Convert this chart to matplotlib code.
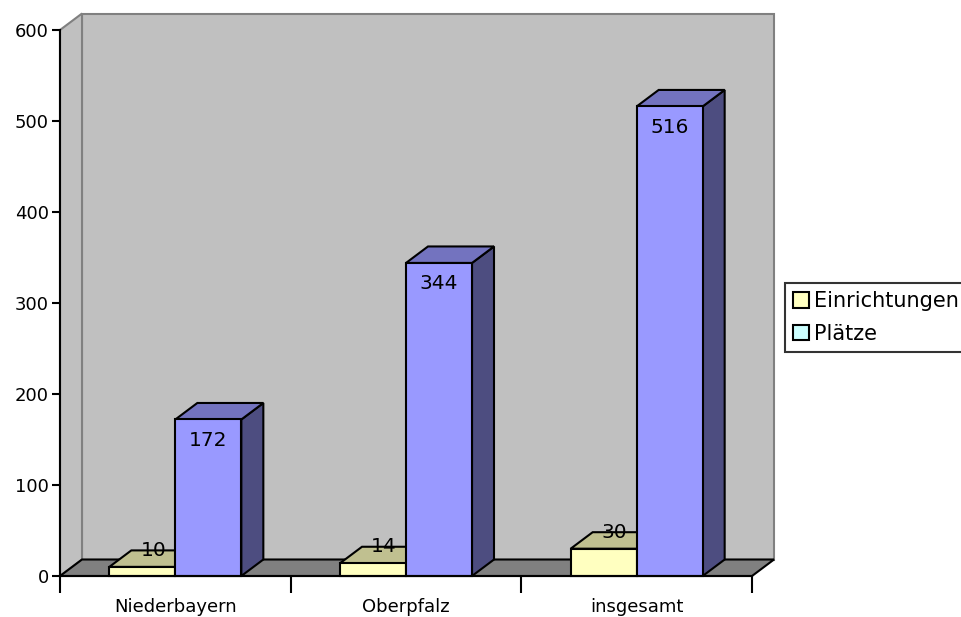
import matplotlib.pyplot as plt
from matplotlib.patches import Polygon, Patch

categories = ["Niederbayern", "Oberpfalz", "insgesamt"]
einrichtungen = [10, 14, 30]
plaetze = [172, 344, 516]
series_names = ["Einrichtungen", "Plätze"]
yticks = [0, 100, 200, 300, 400, 500, 600]

plt.rcParams['font.family'] = ['DejaVu Sans']
plt.rcParams['font.size'] = 11

fig = plt.figure(figsize=(9.62, 6.17), dpi=100)
ax = fig.add_axes([60/962, 41/617, 692/962, 546/617])
ax.set_xlim(0, 3)
ax.set_ylim(0, 600)

# depth of the fake 3d box
dx = 22/692*3
dy = 16.5/546*600
ymax = 600
n = len(categories)

wall = "#c0c0c0"
edge = "#808080"
ax.add_patch(Polygon([(dx, dy), (n+dx, dy), (n+dx, ymax+dy), (dx, ymax+dy)],
                     fc=wall, ec=edge, lw=1.5, clip_on=False, zorder=0))
ax.add_patch(Polygon([(0, 0), (dx, dy), (dx, ymax+dy), (0, ymax)],
                     fc=wall, ec=edge, lw=1.5, clip_on=False, zorder=0))
ax.add_patch(Polygon([(0, 0), (n, 0), (n+dx, dy), (dx, dy)],
                     fc="#808080", ec="black", lw=1.5, clip_on=False, zorder=1))


def bar3d(x0, w, v, front, top, side):
    ax.add_patch(Polygon([(x0+w, 0), (x0+w+dx, dy), (x0+w+dx, v+dy), (x0+w, v)],
                         fc=side, ec="black", lw=1.5, clip_on=False, zorder=2))
    ax.add_patch(Polygon([(x0, v), (x0+w, v), (x0+w+dx, v+dy), (x0+dx, v+dy)],
                         fc=top, ec="black", lw=1.5, clip_on=False, zorder=2))
    ax.add_patch(Polygon([(x0, 0), (x0+w, 0), (x0+w, v), (x0, v)],
                         fc=front, ec="black", lw=1.5, clip_on=False, zorder=2))


w = 66/692*3
for i in range(n):
    xa = i + 0.5 - w
    bar3d(xa, w, einrichtungen[i], "#ffffc0", "#c0c090", "#80805f")
    ax.text(xa + w/2 + dx/2, einrichtungen[i] + dy, str(einrichtungen[i]),
            ha="center", va="center", fontsize=14.5, zorder=5)
    xb = i + 0.5
    bar3d(xb, w, plaetze[i], "#9999ff", "#7373bf", "#4d4d80")
    ax.text(xb + w/2, plaetze[i] - 23, str(plaetze[i]),
            ha="center", va="center", fontsize=14.5, zorder=5)

for s in ["top", "right"]:
    ax.spines[s].set_visible(False)
ax.spines["left"].set_linewidth(1.5)
ax.spines["bottom"].set_linewidth(1.5)
ax.spines["left"].set_zorder(3)
ax.spines["bottom"].set_zorder(3)
ax.patch.set_visible(False)

ax.set_yticks(yticks)
ax.set_yticklabels([str(t) for t in yticks], fontsize=13)
ax.tick_params(axis="y", length=6, width=1.5, pad=2)
ax.set_xticks(range(n+1))
ax.set_xticklabels([])
ax.tick_params(axis="x", length=12, width=1.5)
ax.set_xticks([i + 0.5 for i in range(n)], minor=True)
ax.set_xticklabels(categories, minor=True, fontsize=13)
ax.tick_params(axis="x", which="minor", length=0, pad=16)

handles = [Patch(fc="#ffffc0", ec="black", lw=1.5),
           Patch(fc="#ccffff", ec="black", lw=1.5)]
leg = fig.legend(handles, series_names, loc="upper left",
                 bbox_to_anchor=(785/962, 1-283/617), borderaxespad=0,
                 fancybox=False, handlelength=0.75, handleheight=0.75,
                 handletextpad=0.25, borderpad=0.4, labelspacing=0.6,
                 fontsize=15, frameon=True)
leg.get_frame().set_edgecolor("black")
leg.get_frame().set_linewidth(1.5)

fig.savefig("out.png", dpi=100)
